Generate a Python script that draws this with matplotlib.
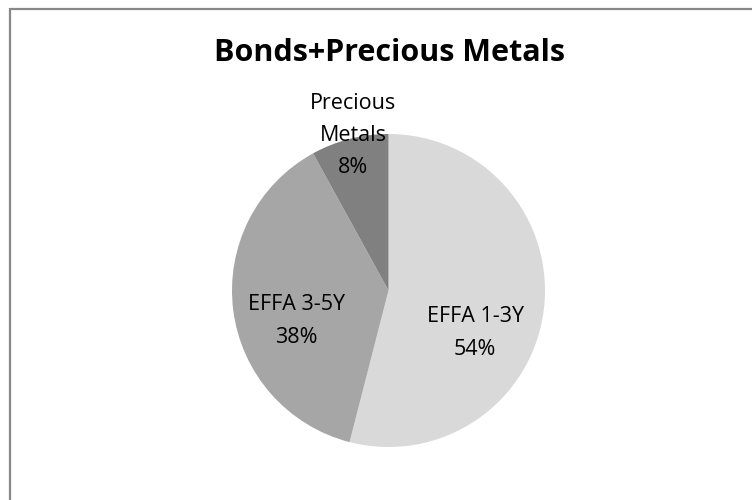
import matplotlib.pyplot as plt
from matplotlib.patches import Rectangle

# Data
categories = ['EFFA 1-3Y', 'EFFA 3-5Y', 'Precious\nMetals']
shares = [54, 38, 8]
colors = ['#d9d9d9', '#a6a6a6', '#808080']

# label positions (in pie radius units) picked to match the original layout
label_pos = [(0.553, -0.272), (-0.588, -0.195), (-0.227, 0.99)]

W, H = 752, 500
fig = plt.figure(figsize=(W / 100, H / 100), dpi=100)
plt.rcParams['font.family'] = ['Open Sans', 'DejaVu Sans']

# outer border of the chart area (right and bottom edges run off the image)
fig.patches.append(Rectangle((10 / W, -10 / H), 760 / W, 501 / H, transform=fig.transFigure,
                             fill=False, edgecolor='#888888', linewidth=1.6))

cx, cy, r = 388.5, H - 290.5, 156.5
ax = fig.add_axes([(cx - r) / W, (cy - r) / H, 2 * r / W, 2 * r / H])
wedges, _ = ax.pie(shares, colors=colors, startangle=90, counterclock=False,
                   radius=1, wedgeprops={'linewidth': 0})
ax.set_xlim(-1, 1)
ax.set_ylim(-1, 1)
ax.set_aspect('equal')
ax.axis('off')

for name, val, (x, y) in zip(categories, shares, label_pos):
    ax.text(x, y, f'{name}\n{val}%', ha='center', va='center', fontsize=15.5,
            color='#000000', linespacing=1.7, clip_on=False)

fig.text(389 / W, 1 - 53 / H, 'Bonds+Precious Metals', ha='center', va='center',
         fontsize=22, fontweight='bold')

fig.savefig('out.png', dpi=100)
